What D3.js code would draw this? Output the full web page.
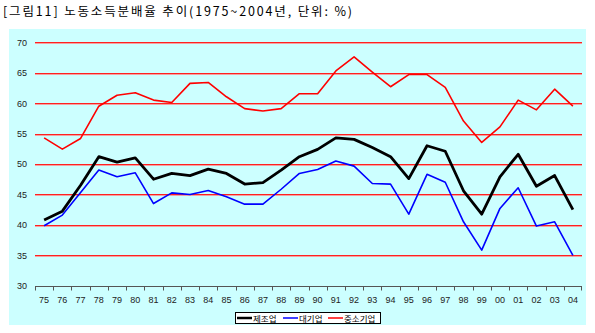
<!DOCTYPE html>
<html><head><meta charset="utf-8">
<script src="https://cdn.jsdelivr.net/npm/d3@7"></script>
<style>body{margin:0;background:#fff}svg{display:block}</style>
</head><body>
<svg id="c" width="595" height="333"></svg>
<script>
const years = ["75","76","77","78","79","80","81","82","83","84","85","86","87","88","89","90","91","92","93","94","95","96","97","98","99","00","01","02","03","04"];
const manufacturing = [40.8,42.25,46.5,51.2,50.3,51.0,47.5,48.45,48.1,49.15,48.45,46.7,46.95,49.0,51.2,52.4,54.3,54.05,52.7,51.2,47.6,53.0,52.1,45.6,41.75,47.9,51.6,46.35,48.1,42.5];
const large = [39.85,41.6,45.3,49.0,47.9,48.55,43.5,45.25,45.0,45.65,44.6,43.4,43.4,45.85,48.45,49.1,50.5,49.65,46.8,46.7,41.75,48.3,47.0,40.5,35.85,42.7,46.1,39.8,40.5,35.0];
const sme = [54.3,52.45,54.2,59.5,61.3,61.7,60.5,60.1,63.25,63.4,61.05,59.1,58.7,59.1,61.55,61.55,65.3,67.6,65.1,62.7,64.7,64.7,62.6,57.05,53.55,56.1,60.5,58.9,62.3,59.5];
const yTicks = [30,35,40,45,50,55,60,65,70];
const seriesNames = ["제조업","대기업","중소기업"];
const colors = ["#000000","#0000ff","#ff0000"];

const svg = d3.select("#c");
const font = "'Noto Sans CJK KR', sans-serif";
svg.append("rect").attr("x",9).attr("y",29).attr("width",577).attr("height",296).attr("fill","#ccffff");
svg.append("text").attr("x",3).attr("y",16).attr("font-family",font).attr("font-size",12.5).attr("fill","#000")
  .attr("textLength",349).attr("lengthAdjust","spacing")
  .text("[그림11] 노동소득분배율 추이(1975~2004년, 단위: %)");

const x = d3.scaleBand().domain(years).range([35,582]);
const y = d3.scaleLinear().domain([30,70]).range([285.7,42.3]);

// gridlines
const g = svg.append("g");
yTicks.filter(t=>t>30).forEach(t=>{
  g.append("line").attr("x1",35).attr("x2",582).attr("y1",Math.round(y(t))+1.5).attr("y2",Math.round(y(t))+1.5).attr("stroke","#f4a0a0").attr("stroke-width",1);
  g.append("line").attr("x1",35).attr("x2",582).attr("y1",Math.round(y(t))+0.5).attr("y2",Math.round(y(t))+0.5).attr("stroke","#ff2020").attr("stroke-width",1);
});
// y labels
const yAx = d3.axisLeft(y).tickValues(yTicks).tickSize(0).tickPadding(8);
const ya = svg.append("g").attr("transform","translate(35,0)").call(yAx);
ya.select(".domain").remove();
ya.selectAll("text").attr("font-family","Arial, 'Liberation Sans', sans-serif").attr("font-size",9).attr("fill","#222");

// x axis
const xa = svg.append("g").attr("transform",`translate(0,${Math.round(y(30))+0.5})`);
xa.append("line").attr("x1",35).attr("x2",582).attr("stroke","#555").attr("stroke-width",1);
years.forEach(d=>{
  xa.append("line").attr("x1",Math.round(x(d))+0.5).attr("x2",Math.round(x(d))+0.5).attr("y1",0).attr("y2",4).attr("stroke","#555");
});
xa.append("line").attr("x1",581.5).attr("x2",581.5).attr("y1",0).attr("y2",4).attr("stroke","#555");
years.forEach(d=>{
  xa.append("text").attr("x",x(d)+x.bandwidth()/2).attr("y",16).attr("text-anchor","middle")
    .attr("font-family","Arial, 'Liberation Sans', sans-serif").attr("font-size",9).attr("fill","#222").text(d);
});

// lines
const line = d3.line().x((d,i)=>x(years[i])+x.bandwidth()/2).y(d=>y(d));
const data = [sme, large, manufacturing];
const cols = [colors[2], colors[1], colors[0]];
const widths = [1.6,1.6,2.8];
data.forEach((s,i)=>{
  svg.append("path").attr("d",line(s)).attr("fill","none").attr("stroke",cols[i]).attr("stroke-width",widths[i]).attr("stroke-linejoin","round");
});

// legend
const lg = svg.append("g");
lg.append("rect").attr("x",235.5).attr("y",312.5).attr("width",145).attr("height",11).attr("fill","#fff").attr("stroke","#000");
const lx = [237,283,328];
seriesNames.forEach((n,i)=>{
  lg.append("line").attr("x1",lx[i]).attr("x2",lx[i]+15).attr("y1",318).attr("y2",318).attr("stroke",colors[i]).attr("stroke-width",i===0?2.5:1.5);
  lg.append("text").attr("x",lx[i]+16).attr("y",321.5).attr("font-family",font).attr("font-size",8.5).attr("fill","#000").text(n);
});
</script>
</body></html>
